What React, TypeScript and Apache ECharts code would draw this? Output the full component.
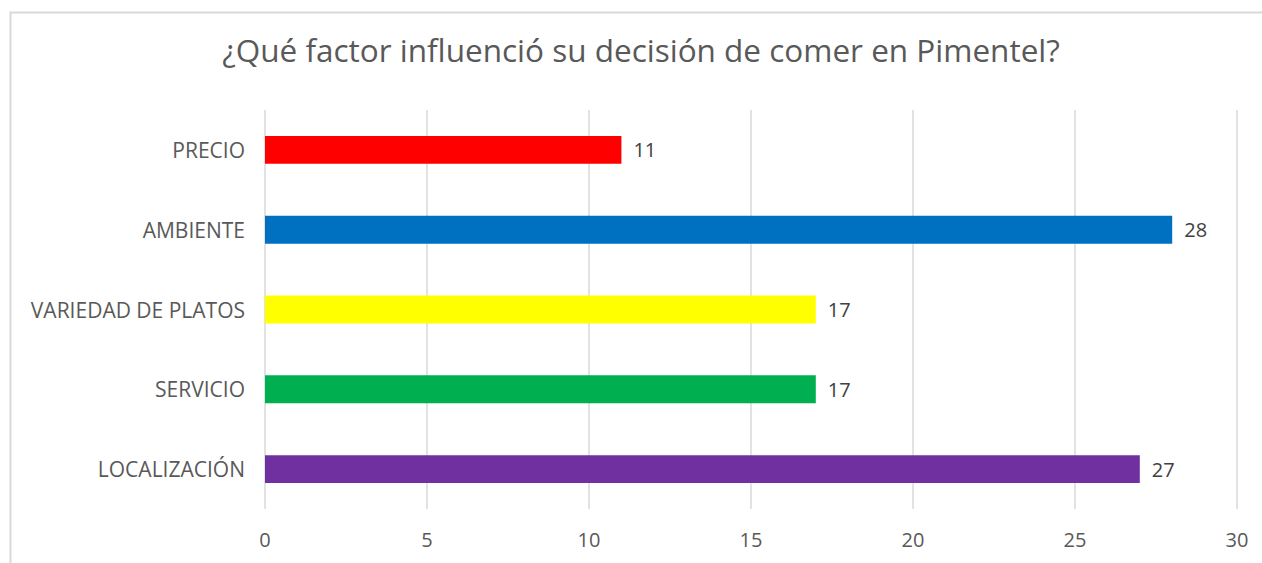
import React, { useEffect, useRef } from "react";
import * as echarts from "echarts";

const categories = ["PRECIO", "AMBIENTE", "VARIEDAD DE PLATOS", "SERVICIO", "LOCALIZACIÓN"];
const values = [11, 28, 17, 17, 27];
const colors = ["#FF0000", "#0070C0", "#FFFF00", "#00B050", "#7030A0"];
const title = "¿Qué factor influenció su decisión de comer en Pimentel?";
const FONT = "'Open Sans', 'Noto Sans', sans-serif";
const TEXT = "#595959";

export default function App() {
  const ref = useRef<HTMLDivElement>(null);
  useEffect(() => {
    if (!ref.current) return;
    const chart = echarts.init(ref.current, undefined, { renderer: "svg" });
    chart.setOption({
      animation: false,
      backgroundColor: "#ffffff",
      textStyle: { fontFamily: FONT },
      graphic: [
        {
          type: "rect",
          shape: { x: 10.5, y: 12.5, width: 1300, height: 600 },
          style: { fill: "none", stroke: "#d9d9d9", lineWidth: 2 },
          silent: true,
          z: -1,
        },
        {
          type: "text",
          x: 641,
          y: 33,
          silent: true,
          style: {
            text: title,
            textAlign: "center",
            textVerticalAlign: "top",
            fill: TEXT,
            fontSize: 31.5,
            fontFamily: FONT,
            fontWeight: "normal",
          },
        },
      ],
      grid: { left: 265, right: 25, top: 110, bottom: 54, containLabel: false },
      xAxis: {
        type: "value",
        min: 0,
        max: 30,
        interval: 5,
        axisLine: { show: false },
        axisTick: { show: false },
        axisLabel: { color: TEXT, fontSize: 20, fontFamily: FONT, margin: 20 },
        splitLine: { show: true, lineStyle: { color: "#d9d9d9", width: 1.5 } },
      },
      yAxis: {
        type: "category",
        data: categories,
        inverse: true,
        axisLine: { show: false },
        axisTick: { show: false },
        axisLabel: { color: TEXT, fontSize: 21, fontFamily: FONT, margin: 20 },
      },
      series: [
        {
          type: "bar",
          data: values.map((v, i) => ({ value: v, itemStyle: { color: colors[i] } })),
          barWidth: "35%",
          label: {
            show: true,
            position: "right",
            distance: 12,
            color: "#404040",
            fontSize: 20,
            fontFamily: FONT,
          },
        },
      ],
    });
    return () => chart.dispose();
  }, []);
  return (
    <div
      ref={ref}
      style={{ position: "absolute", left: 0, top: 0, width: 1262, height: 563 }}
    />
  );
}
